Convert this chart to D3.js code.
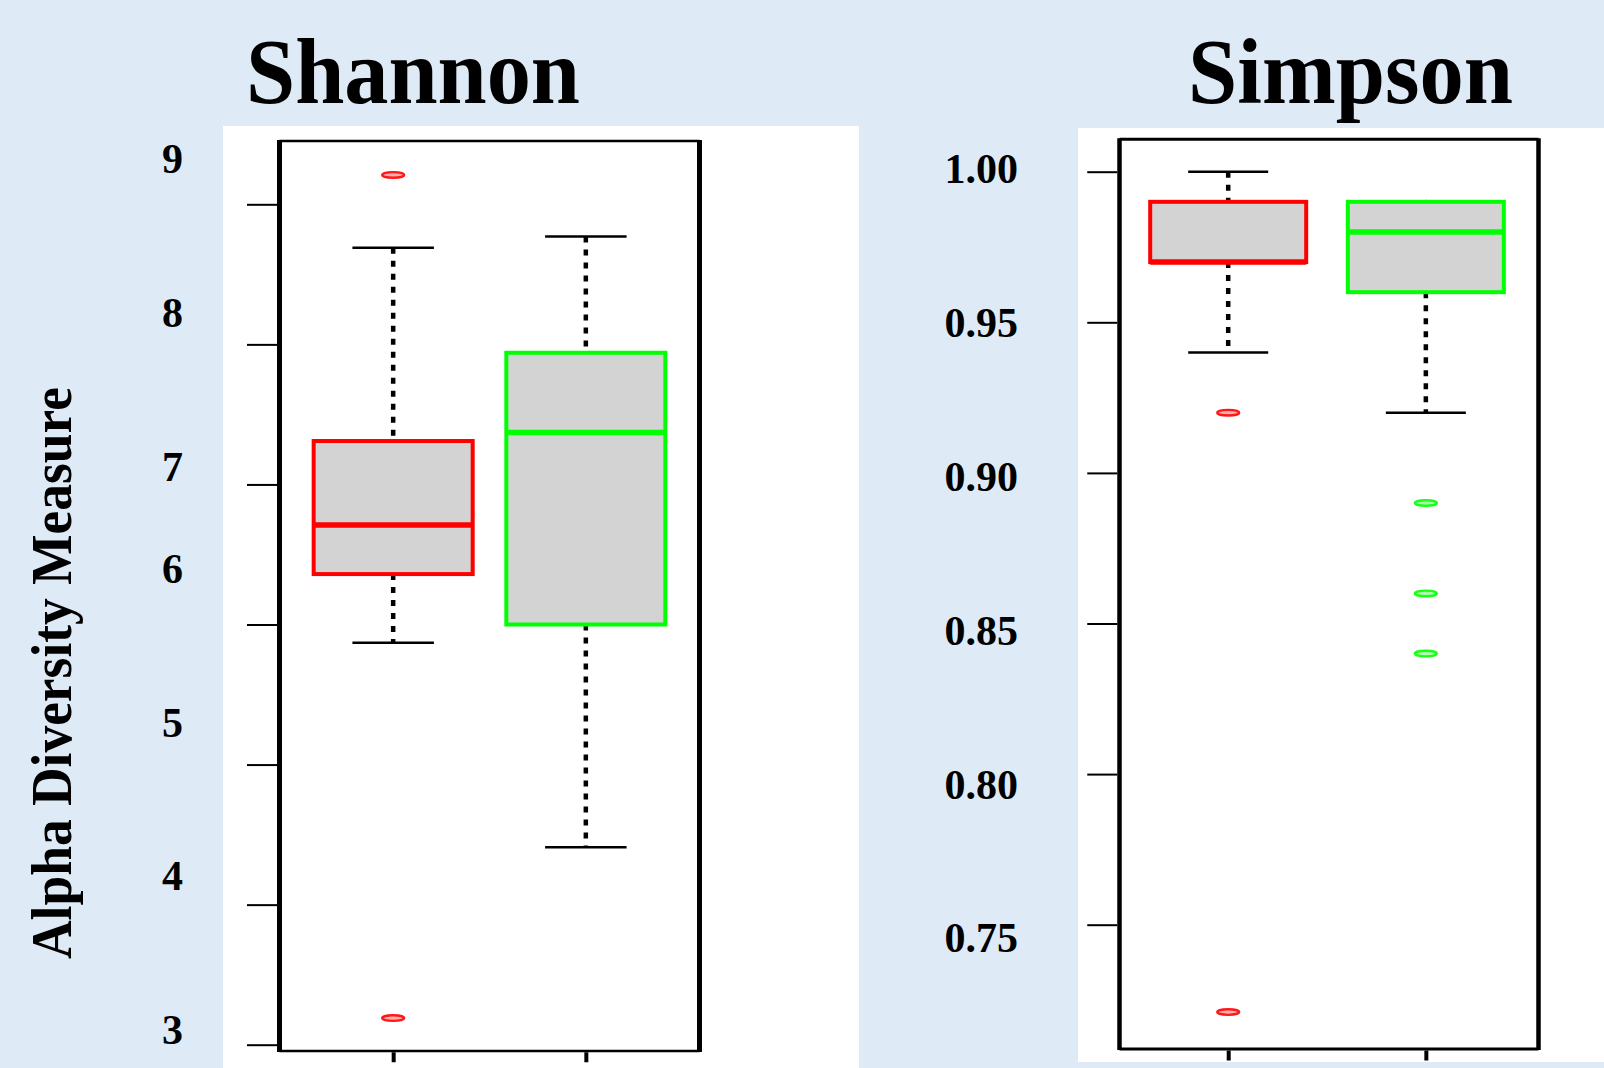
<!DOCTYPE html>
<html>
<head>
<meta charset="utf-8">
<script src="https://cdn.jsdelivr.net/npm/d3@7"></script>
<style>
  body { margin: 0; background: #deebf7; }
  svg { display: block; }
  text { font-family: 'Liberation Serif', 'Times New Roman', serif; font-weight: bold; fill: #000; }
</style>
</head>
<body>
<script>
// groups drawn left to right in each panel
const groups = [1, 2];
const groupColors = ['#ff0000', '#00ff00'];

// Shannon panel
const shannonTicks = [3, 4, 5, 6, 7, 8, 9];
const shannonLow = [5.87, 4.41];
const shannonQ1 = [6.36, 6.0];
const shannonMedian = [6.71, 7.37];
const shannonQ3 = [7.31, 7.94];
const shannonHigh = [8.69, 8.77];
const shannonOutliers = [[9.21, 3.19], []];

// Simpson panel
const simpsonTicks = [0.75, 0.80, 0.85, 0.90, 0.95, 1.00];
const simpsonLow = [0.94, 0.92];
const simpsonQ1 = [0.97, 0.96];
const simpsonMedian = [0.97, 0.98];
const simpsonQ3 = [0.99, 0.99];
const simpsonHigh = [1.00, 0.99];
const simpsonOutliers = [[0.92, 0.721], [0.89, 0.86, 0.84]];

const width = 1604;
const height = 1068;

const svg = d3.select('body')
  .append('svg')
  .attr('width', width)
  .attr('height', height);

svg.append('rect')
  .attr('width', width)
  .attr('height', height)
  .attr('fill', '#deebf7');

const panels = [
  {
    title: 'Shannon', titleX: 246, titleLen: 334,
    bg: [223, 126, 859, 1068],
    frame: { x0: 279.5, x1: 699.5, y0: 141, y1: 1051, side: 5, flat: 2.5 },
    y: d3.scaleLinear().domain([3, 9]).range([1044.7, 204.3]),
    // the printed labels do not sit on their ticks in the original
    labelY: d3.scaleLinear().domain([3, 6, 7, 9]).range([1030, 569, 466.7, 159]),
    labelX: 183,
    x: d3.scaleLinear().domain([0.41, 2.59]).range([279.5, 699.5]),
    boxW: 163,
    ticks: shannonTicks, fmt: d3.format('d'),
    low: shannonLow, q1: shannonQ1, med: shannonMedian, q3: shannonQ3, high: shannonHigh,
    out: shannonOutliers
  },
  {
    title: 'Simpson', titleX: 1188, titleLen: 325,
    bg: [1078, 128, 1604, 1062],
    frame: { x0: 1119.5, x1: 1538.5, y0: 139.3, y1: 1049, side: 4.5, flat: 3 },
    y: d3.scaleLinear().domain([0.75, 1.0]).range([924.7, 171.7]),
    labelY: d3.scaleLinear().domain([0.75, 1.0]).range([938.3, 169.3]),
    labelX: 1018,
    x: d3.scaleLinear().domain([0.45, 2.57]).range([1119.5, 1538.5]),
    boxW: 160,
    ticks: simpsonTicks, fmt: d3.format('.2f'),
    low: simpsonLow, q1: simpsonQ1, med: simpsonMedian, q3: simpsonQ3, high: simpsonHigh,
    out: simpsonOutliers
  }
];

panels.forEach(p => {
  const g = svg.append('g');
  const f = p.frame;
  const { x, y } = p;

  g.append('rect')
    .attr('x', p.bg[0]).attr('y', p.bg[1])
    .attr('width', p.bg[2] - p.bg[0]).attr('height', p.bg[3] - p.bg[1])
    .attr('fill', '#fff');

  g.append('text')
    .attr('x', p.titleX)
    .attr('y', 102.5)
    .attr('font-size', 93)
    .attr('textLength', p.titleLen)
    .attr('lengthAdjust', 'spacingAndGlyphs')
    .text(p.title);

  // y ticks
  g.append('g')
    .attr('transform', `translate(${f.x0 - f.side / 2},0)`)
    .call(d3.axisLeft(y).tickValues(p.ticks).tickSize(30).tickFormat(''))
    .call(a => a.select('.domain').remove())
    .call(a => a.selectAll('.tick line').attr('stroke', '#000').attr('stroke-width', 2));

  g.selectAll('.ylab')
    .data(p.ticks)
    .join('text')
    .attr('class', 'ylab')
    .attr('x', p.labelX)
    .attr('y', d => p.labelY(d) + 14)
    .attr('text-anchor', 'end')
    .attr('font-size', 42)
    .text(p.fmt);

  // x ticks
  g.append('g')
    .attr('transform', `translate(0,${f.y1 + f.flat / 2})`)
    .call(d3.axisBottom(x).tickValues(groups).tickSize(10).tickFormat(''))
    .call(a => a.select('.domain').remove())
    .call(a => a.selectAll('.tick line').attr('stroke', '#000').attr('stroke-width', 4));

  const box = g.selectAll('.box')
    .data(groups)
    .join('g')
    .attr('class', 'box');

  // dashed whiskers
  box.append('line')
    .attr('x1', d => x(d)).attr('x2', d => x(d))
    .attr('y1', (d, i) => y(p.high[i])).attr('y2', (d, i) => y(p.q3[i]))
    .attr('stroke', '#000').attr('stroke-width', 4.5).attr('stroke-dasharray', '6 7');
  box.append('line')
    .attr('x1', d => x(d)).attr('x2', d => x(d))
    .attr('y1', (d, i) => y(p.q1[i])).attr('y2', (d, i) => y(p.low[i]))
    .attr('stroke', '#000').attr('stroke-width', 4.5).attr('stroke-dasharray', '6 7');

  // staples
  ['high', 'low'].forEach(k => {
    box.append('line')
      .attr('x1', d => x(d) - p.boxW / 4).attr('x2', d => x(d) + p.boxW / 4)
      .attr('y1', (d, i) => y(p[k][i])).attr('y2', (d, i) => y(p[k][i]))
      .attr('stroke', '#000').attr('stroke-width', 2.5);
  });

  box.append('rect')
    .attr('x', d => x(d) - p.boxW / 2 + 2)
    .attr('width', p.boxW - 4)
    .attr('y', (d, i) => y(p.q3[i]))
    .attr('height', (d, i) => y(p.q1[i]) - y(p.q3[i]))
    .attr('fill', '#d3d3d3')
    .attr('stroke', (d, i) => groupColors[i])
    .attr('stroke-width', 4);

  box.append('line')
    .attr('x1', d => x(d) - p.boxW / 2 + 2).attr('x2', d => x(d) + p.boxW / 2 - 2)
    .attr('y1', (d, i) => y(p.med[i])).attr('y2', (d, i) => y(p.med[i]))
    .attr('stroke', (d, i) => groupColors[i])
    .attr('stroke-width', 5.5);

  box.each(function (d, i) {
    d3.select(this).selectAll('ellipse')
      .data(p.out[i])
      .join('ellipse')
      .attr('cx', x(d))
      .attr('cy', v => y(v))
      .attr('rx', 11)
      .attr('ry', 2.8)
      .attr('fill', groupColors[i])
      .attr('fill-opacity', 0.35)
      .attr('stroke', groupColors[i])
      .attr('stroke-width', 2.4)
      .attr('opacity', 0.9);
  });

  // frame: thick sides, thin top and bottom
  g.append('line').attr('x1', f.x0).attr('x2', f.x0).attr('y1', f.y0 - 1).attr('y2', f.y1 + 1)
    .attr('stroke', '#000').attr('stroke-width', f.side);
  g.append('line').attr('x1', f.x1).attr('x2', f.x1).attr('y1', f.y0 - 1).attr('y2', f.y1 + 1)
    .attr('stroke', '#000').attr('stroke-width', f.side);
  g.append('line').attr('x1', f.x0).attr('x2', f.x1).attr('y1', f.y0).attr('y2', f.y0)
    .attr('stroke', '#000').attr('stroke-width', f.flat);
  g.append('line').attr('x1', f.x0).attr('x2', f.x1).attr('y1', f.y1).attr('y2', f.y1)
    .attr('stroke', '#000').attr('stroke-width', f.flat);
});

svg.append('text')
  .attr('transform', 'translate(71,673) rotate(-90)')
  .attr('text-anchor', 'middle')
  .attr('font-size', 56)
  .attr('textLength', 572)
  .attr('lengthAdjust', 'spacingAndGlyphs')
  .text('Alpha Diversity Measure');
</script>
</body>
</html>
